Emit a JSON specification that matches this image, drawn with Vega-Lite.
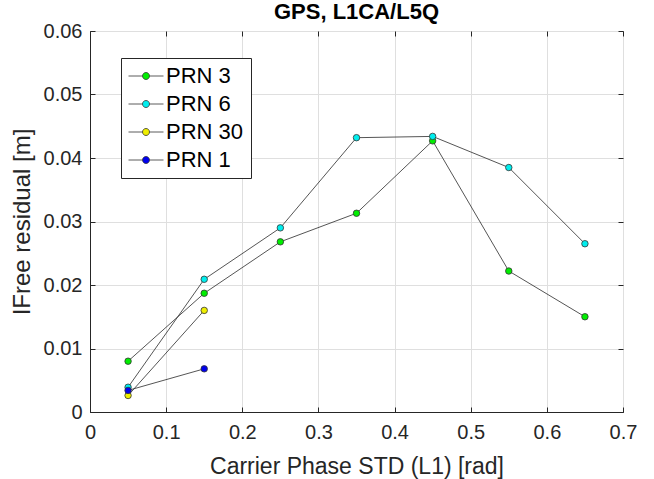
{
  "$schema": "https://vega.github.io/schema/vega-lite/v6.json",
  "width": 533,
  "height": 381,
  "autosize": {"type": "none"},
  "padding": {"left": 90, "top": 31, "right": 31, "bottom": 67},
  "background": "white",
  "title": {
    "text": "GPS, L1CA/L5Q",
    "font": "Liberation Sans",
    "fontSize": 22,
    "fontWeight": "bold",
    "color": "#000000",
    "anchor": "middle",
    "frame": "group",
    "baseline": "bottom",
    "offset": 6,
    "dy": 31
  },
  "config": {
    "view": {"stroke": "#262626", "strokeWidth": 1},
    "axis": {
      "labelFont": "Liberation Sans",
      "titleFont": "Liberation Sans",
      "labelColor": "#262626",
      "titleColor": "#262626",
      "titleFontWeight": "normal",
      "domainColor": "#262626",
      "tickColor": "#262626",
      "gridColor": "#dfdfdf",
      "gridWidth": 1
    }
  },
  "data": {
    "values": [
      {"prn": "PRN 3", "std": 0.05, "res": 0.0080},
      {"prn": "PRN 3", "std": 0.15, "res": 0.0187},
      {"prn": "PRN 3", "std": 0.25, "res": 0.0268},
      {"prn": "PRN 3", "std": 0.35, "res": 0.0313},
      {"prn": "PRN 3", "std": 0.45, "res": 0.0427},
      {"prn": "PRN 3", "std": 0.55, "res": 0.0222},
      {"prn": "PRN 3", "std": 0.65, "res": 0.0150},
      {"prn": "PRN 6", "std": 0.05, "res": 0.0039},
      {"prn": "PRN 6", "std": 0.15, "res": 0.0209},
      {"prn": "PRN 6", "std": 0.25, "res": 0.0290},
      {"prn": "PRN 6", "std": 0.35, "res": 0.0432},
      {"prn": "PRN 6", "std": 0.45, "res": 0.0434},
      {"prn": "PRN 6", "std": 0.55, "res": 0.0385},
      {"prn": "PRN 6", "std": 0.65, "res": 0.0265},
      {"prn": "PRN 30", "std": 0.05, "res": 0.0026},
      {"prn": "PRN 30", "std": 0.15, "res": 0.0160},
      {"prn": "PRN 1", "std": 0.05, "res": 0.0034},
      {"prn": "PRN 1", "std": 0.15, "res": 0.0068}
    ]
  },
  "layer": [
    {
      "mark": {"type": "line", "color": "#2a2a2a", "strokeWidth": 0.8},
      "encoding": {
        "x": {
          "field": "std", "type": "quantitative",
          "scale": {"domain": [0, 0.7], "nice": false, "zero": false},
          "axis": {
            "orient": "bottom",
            "values": [0, 0.1, 0.2, 0.3, 0.4, 0.5, 0.6, 0.7],
            "format": "~g",
            "title": "Carrier Phase STD (L1) [rad]",
            "titleFontSize": 23,
            "labelFontSize": 20,
            "tickSize": -5,
            "labelPadding": 15,
            "titlePadding": 13,
            "labelFlush": false
          }
        },
        "y": {
          "field": "res", "type": "quantitative",
          "scale": {"domain": [0, 0.06], "nice": false, "zero": false},
          "axis": {
            "orient": "left",
            "values": [0, 0.01, 0.02, 0.03, 0.04, 0.05, 0.06],
            "format": "~g",
            "title": "IFree residual [m]",
            "titleFontSize": 24,
            "labelFontSize": 20,
            "tickSize": -5,
            "labelPadding": 13,
            "titlePadding": 9,
            "labelFlush": false
          }
        },
        "detail": {"field": "prn"}
      }
    },
    {
      "mark": {"type": "point", "filled": true, "size": 42, "stroke": "#333333", "strokeWidth": 0.8, "opacity": 1},
      "encoding": {
        "x": {"field": "std", "type": "quantitative", "axis": null},
        "y": {"field": "res", "type": "quantitative", "axis": null},
        "fill": {
          "field": "prn", "type": "nominal",
          "scale": {"domain": ["PRN 3", "PRN 6", "PRN 30", "PRN 1"], "range": ["#00ee00", "#00eeee", "#eeee00", "#0000ee"]},
          "legend": {
            "title": null,
            "orient": "none",
            "legendX": 31,
            "legendY": 27,
            "padding": 7,
            "strokeColor": "#262626",
            "fillColor": "white",
            "symbolType": "M-5,0L-1,0M1,0L5,0M1,0A1,1,0,1,1,-1,0A1,1,0,1,1,1,0Z",
            "symbolSize": 49,
            "symbolStrokeColor": "#333333",
            "symbolStrokeWidth": 0.8,
            "symbolOffset": 7,
            "labelOffset": 9,
            "labelFont": "Liberation Sans",
            "labelFontSize": 22,
            "labelColor": "#000000",
            "rowPadding": 6
          }
        }
      }
    },
    {
      "mark": {"type": "point", "opacity": 0},
      "encoding": {
        "x": {
          "field": "std", "type": "quantitative",
          "axis": {"orient": "top", "values": [0, 0.1, 0.2, 0.3, 0.4, 0.5, 0.6, 0.7], "labels": false, "title": null, "grid": false, "domain": false, "tickSize": -5, "minExtent": 0, "maxExtent": 0}
        },
        "y": {
          "field": "res", "type": "quantitative",
          "axis": {"orient": "right", "values": [0, 0.01, 0.02, 0.03, 0.04, 0.05, 0.06], "labels": false, "title": null, "grid": false, "domain": false, "tickSize": -5, "minExtent": 0, "maxExtent": 0}
        }
      }
    }
  ],
  "resolve": {"axis": {"x": "independent", "y": "independent"}}
}
